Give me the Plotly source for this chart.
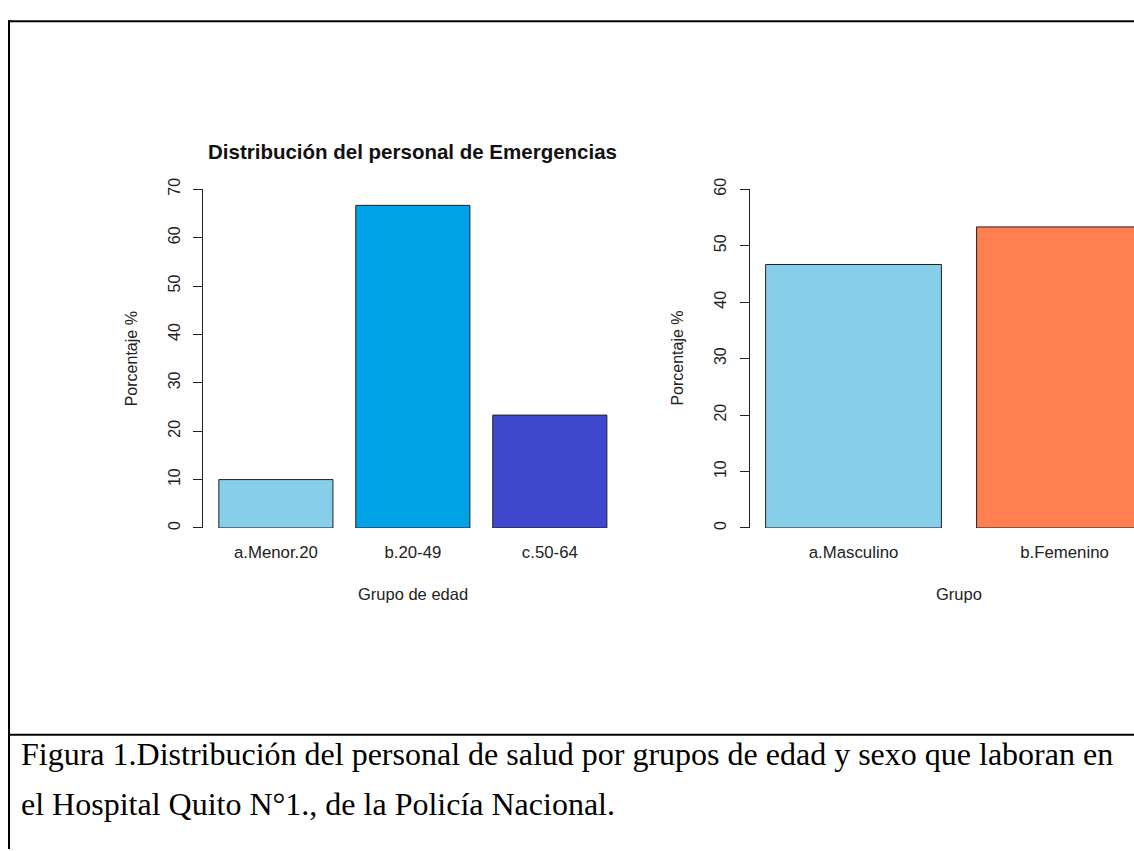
import plotly.graph_objects as go

# --- datos ---
edad_grupos = ["a.Menor.20", "b.20-49", "c.50-64"]
edad_pct = [10.0, 66.67, 23.33]
edad_colores = ["#87CEEB", "#00A2E8", "#3F48CC"]

sexo_grupos = ["a.Masculino", "b.Femenino"]
sexo_pct = [46.67, 53.33]
sexo_colores = ["#87CEEB", "#FF7F50"]

titulo = "Distribución del personal de Emergencias"
caption = [
    "Figura 1.Distribución del personal de salud por grupos de edad y sexo que laboran en",
    "el Hospital Quito N°1., de la Policía Nacional.",
]

W, H = 1134, 851


def px(x):
    return x / W


def py(y):
    return 1 - y / H


SANS = "Liberation Sans, Arial, sans-serif"
SERIF = "Liberation Serif, Times New Roman, serif"

fig = go.Figure()
fig.add_trace(go.Bar(
    x=edad_grupos, y=edad_pct, marker=dict(color=edad_colores, line=dict(color="#222", width=1)),
    xaxis="x", yaxis="y", showlegend=False
))
fig.add_trace(go.Bar(
    x=sexo_grupos, y=sexo_pct, marker=dict(color=sexo_colores, line=dict(color="#222", width=1)),
    xaxis="x2", yaxis="y2", showlegend=False
))

yax = dict(
    showgrid=False, zeroline=False, showline=True, linecolor="#222", linewidth=1,
    ticks="outside", ticklen=9, tickcolor="#222", tickangle=-90, ticklabelstandoff=7,
    tickfont=dict(family=SANS, size=16, color="#222"),
)
xax = dict(
    showgrid=False, zeroline=False, showline=False, ticks="",
    tickfont=dict(family=SANS, size=16.8, color="#222"), ticklabelstandoff=12,
)

# el panel derecho queda cortado por el borde de la imagen
x2_right = (W - 853.5) / 211

fig.update_layout(
    width=W, height=H, autosize=False,
    margin=dict(l=0, r=0, t=0, b=0),
    paper_bgcolor="white", plot_bgcolor="white",
    bargap=1 / 6,
    xaxis=dict(xax, domain=[px(203.3), px(622.4)], range=[-0.53, 2.53], anchor="y"),
    yaxis=dict(yax, domain=[py(525), py(181)], range=[0, 70], dtick=10, anchor="x"),
    xaxis2=dict(xax, domain=[px(749.5), 1.0], range=[-0.493, x2_right], anchor="y2"),
    yaxis2=dict(yax, domain=[py(525), py(181)], range=[0, 60], dtick=10, anchor="x2"),
)

anns = [
    dict(text="<b>" + titulo + "</b>", x=px(412.5), y=py(143), font=dict(family=SANS, size=20.5, color="#111")),
    dict(text="Grupo de edad", x=px(412.5), y=py(592), font=dict(family=SANS, size=16.5, color="#222")),
    dict(text="Grupo", x=px(958.5), y=py(592), font=dict(family=SANS, size=16.5, color="#222")),
    dict(text="Porcentaje %", x=px(131.7), y=py(353), textangle=-90, font=dict(family=SANS, size=16, color="#222")),
    dict(text="Porcentaje %", x=px(678), y=py(353), textangle=-90, font=dict(family=SANS, size=16, color="#222")),
]
for a in anns:
    fig.add_annotation(a, xref="paper", yref="paper", showarrow=False, xanchor="center", yanchor="middle")

for i, linea in enumerate(caption):
    fig.add_annotation(
        text=linea, xref="paper", yref="paper", x=px(19), y=py(755 + 50 * i),
        xanchor="left", yanchor="middle", showarrow=False,
        font=dict(family=SERIF, size=32, color="black")
    )

# marco de la figura
fig.add_shape(type="line", xref="paper", yref="paper", x0=px(8), x1=1, y0=py(10.3), y1=py(10.3),
              line=dict(color="black", width=2))
fig.add_shape(type="line", xref="paper", yref="paper", x0=px(9), x1=px(9), y0=py(9.3), y1=0,
              line=dict(color="black", width=2))
fig.add_shape(type="line", xref="paper", yref="paper", x0=px(8), x1=1, y0=py(735), y1=py(735),
              line=dict(color="black", width=2))

# sin el margen por defecto del <body> el lienzo ocupa justo la ventana
fig.write_html("out.html", config={"displayModeBar": False},
               post_script="document.body.style.margin = '0';")
